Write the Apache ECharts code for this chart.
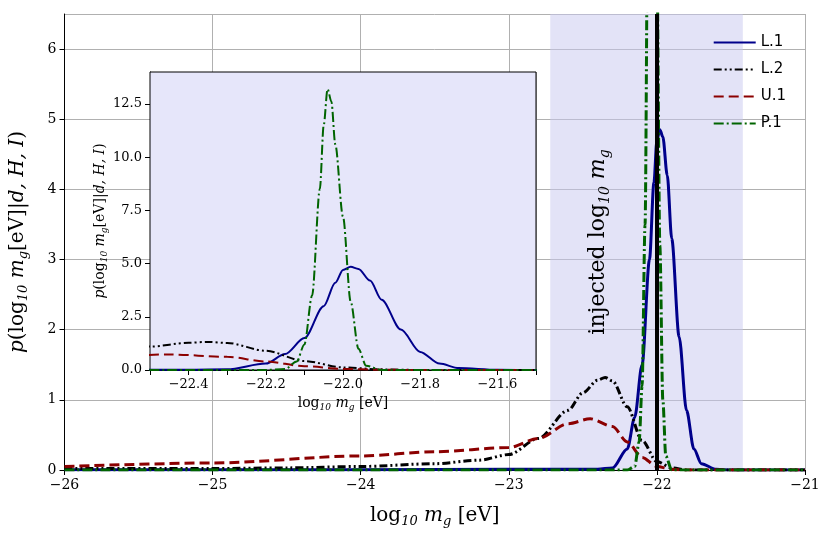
<!DOCTYPE html>
<html><head><meta charset="utf-8">
<script src="https://cdn.jsdelivr.net/npm/echarts@6/dist/echarts.min.js"></script>
<style>html,body{margin:0;background:#fff}#c{width:831px;height:539px}</style>
</head><body><div id="c"></div>
<script>
// values, [log10 mg, density]
var l1 = [[-26,0.005],[-24,0.005],[-23,0.01],[-22.4,0.01],[-22.3,0.03],[-22.2,0.3],[-22.15,0.75],[-22.1,1.5],[-22.05,3.0],[-22.02,4.1],[-22.0,4.7],[-21.98,4.85],[-21.96,4.75],[-21.93,4.2],[-21.9,3.3],[-21.85,1.9],[-21.8,0.85],[-21.75,0.3],[-21.7,0.09],[-21.6,0.01],[-21.5,0],[-21,0]];
var l2 = [[-26,0.02],[-25,0.02],[-24.5,0.03],[-24,0.05],[-23.5,0.09],[-23.2,0.14],[-23,0.22],[-22.8,0.45],[-22.6,0.85],[-22.5,1.1],[-22.4,1.28],[-22.35,1.32],[-22.3,1.27],[-22.2,0.9],[-22.1,0.42],[-22.0,0.12],[-21.9,0.03],[-21.8,0],[-21,0]];
var u1 = [[-26,0.05],[-25,0.1],[-24,0.2],[-23.5,0.26],[-23,0.32],[-22.8,0.45],[-22.6,0.66],[-22.45,0.73],[-22.3,0.62],[-22.2,0.4],[-22.1,0.18],[-22.0,0.05],[-21.9,0.01],[-21.8,0],[-21,0]];
var p1 = [[-26,0],[-22.2,0],[-22.15,0.05],[-22.12,0.4],[-22.1,1.2],[-22.08,3.5],[-22.06,8.5],[-22.05,11.5],[-22.04,13.2],[-22.03,12.6],[-22.02,10.6],[-22.0,7.2],[-21.98,3.2],[-21.96,1.0],[-21.94,0.2],[-21.9,0],[-21,0]];
var names = ['L.1','L.2','U.1','P.1'];
var colors = ['#00008b','#000000','#8b0000','#006400'];
var types = ['solid',[8,3,2,3,2,3],[10,5],[10,3,2,3]];
var injected = -22.0;
var band = [-22.72, -21.42];

var font = 'DejaVu Serif';
var minus = function (v, d) { return (d != null ? v.toFixed(d) : String(v)).replace('-', '\u2212'); };
var mk = function (big, small, pad) {
  return {n: {fontFamily: font, fontSize: big, color: '#000'}, i: {fontFamily: font, fontStyle: 'italic', fontSize: big, color: '#000'},
    s: {fontFamily: font, fontStyle: 'italic', fontSize: small, color: '#000', padding: [pad, 0, 0, 0]}};
};
var rich = mk(20, 13, 12), richS = mk(14, 9, 8);
var xname = '{n|log}{s|10}{i| m}{s|g}{n| [eV]}';
var yname = '{i|p}{n|(log}{s|10}{i| m}{s|g}{n|[eV]|}{i|d, H, I}{n|)}';

var data = [l1, l2, u1, p1];
var series = [];
data.forEach(function (d, k) {
  series.push({name: names[k], type: 'line', data: d, showSymbol: false, symbol: 'none', smooth: 0.3, smoothMonotone: 'x', xAxisIndex: 0, yAxisIndex: 0, z: 3,
    lineStyle: {color: colors[k], width: 3, type: types[k]}, itemStyle: {color: colors[k]},
    markArea: k === 0 ? {silent: true, itemStyle: {color: 'rgba(200,200,240,0.5)'}, data: [[{xAxis: band[0]}, {xAxis: band[1]}]]} : undefined,
    markLine: k === 0 ? {silent: true, symbol: 'none', label: {show: false}, lineStyle: {color: '#000', width: 4, type: 'solid'}, data: [{xAxis: injected}]} : undefined});
  series.push({name: names[k], type: 'line', data: d, showSymbol: false, symbol: 'none', smooth: 0.3, smoothMonotone: 'x', xAxisIndex: 1, yAxisIndex: 1, z: 12,
    lineStyle: {color: colors[k], width: 2, type: types[k]},
    markLine: k === 0 ? {silent: true, symbol: 'none', label: {show: false}, lineStyle: {color: '#000', width: 2, type: 'solid'}, data: [{xAxis: injected}]} : undefined});
});

var chart = echarts.init(document.getElementById('c'));
chart.setOption({
  animation: false,
  grid: [{left: 62, right: 26, top: 14, bottom: 69},
         {left: 150, width: 386, top: 72, height: 298, show: true, backgroundColor: '#e6e6fa', borderColor: '#000', borderWidth: 1, z: 10}],
  legend: {data: names, orient: 'vertical', right: 40, top: 30, itemWidth: 42, itemGap: 12, itemHeight: 10, itemStyle: {opacity: 0},
    textStyle: {fontFamily: 'DejaVu Sans', fontSize: 15, color: '#000'}},
  xAxis: [
    {type: 'value', min: -26, max: -21, interval: 1, gridIndex: 0, name: xname, nameLocation: 'middle', nameGap: 33, nameTextStyle: {rich: rich},
     axisLine: {lineStyle: {color: '#000'}}, axisTick: {lineStyle: {color: '#000'}}, splitLine: {show: true, lineStyle: {color: '#b0b0b0'}},
     axisLabel: {fontFamily: font, fontSize: 14, color: '#000', formatter: function (v) { return minus(v); }}},
    {type: 'value', min: -22.5, max: -21.5, interval: 0.1, gridIndex: 1, name: xname, nameLocation: 'middle', nameGap: 25, nameTextStyle: {rich: richS},
     axisLine: {onZero: false, lineStyle: {color: '#000'}}, axisTick: {lineStyle: {color: '#000'}}, splitLine: {show: true, lineStyle: {color: '#b0b0b0'}},
     axisLabel: {fontFamily: font, fontSize: 13, color: '#000', formatter: function (v) { var r = Math.round(v * 10); return r % 2 === 0 && r !== -225 && r !== -215 ? minus(v, 1) : ''; }}}
  ],
  yAxis: [
    {type: 'value', min: 0, max: 6.5, interval: 1, gridIndex: 0, name: yname, nameLocation: 'middle', nameGap: 34, nameTextStyle: {rich: rich},
     axisLine: {show: true, lineStyle: {color: '#000'}}, axisTick: {show: true, lineStyle: {color: '#000'}}, splitLine: {show: true, lineStyle: {color: '#b0b0b0'}},
     axisLabel: {fontFamily: font, fontSize: 14, color: '#000', showMaxLabel: false}},
    {type: 'value', min: 0, max: 14, interval: 2.5, gridIndex: 1, name: yname, nameLocation: 'middle', nameGap: 40, nameTextStyle: {rich: richS},
     axisLine: {show: true, lineStyle: {color: '#000'}}, axisTick: {show: true, lineStyle: {color: '#000'}}, splitLine: {show: true, lineStyle: {color: '#b0b0b0'}},
     axisLabel: {fontFamily: font, fontSize: 13, color: '#000', showMaxLabel: false, formatter: function (v) { return v.toFixed(1); }}}
  ],
  graphic: [{type: 'text', x: 598, y: 242, rotation: Math.PI / 2, z: 20,
    style: {text: '{n|injected log}{s|10}{i| m}{s|g}', rich: mk(22, 14, 14), verticalAlign: 'middle', align: 'center'}}],
  series: series
});
</script></body></html>
